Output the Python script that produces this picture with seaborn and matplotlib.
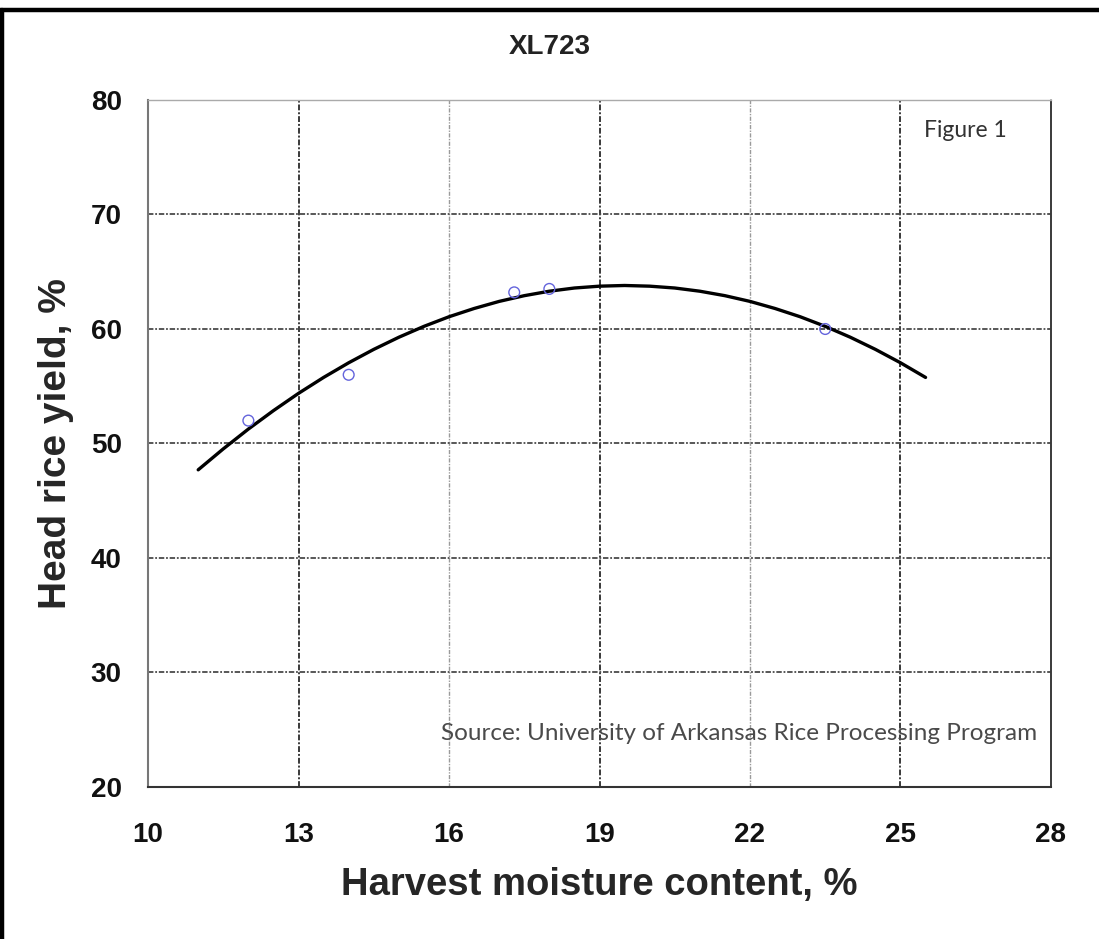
import numpy as np
import pandas as pd
import matplotlib
matplotlib.use("Agg")
import matplotlib.pyplot as plt
from matplotlib.lines import Line2D
import seaborn as sns

# measured points
moisture = [12.0, 14.0, 17.3, 18.0, 23.5]
head_rice = [52.0, 56.0, 63.2, 63.5, 60.0]

# trend line
curve_x = [11, 11.5, 12, 12.5, 13, 13.5, 14, 14.5, 15, 15.5, 16, 16.5, 17,
           17.5, 18, 18.5, 19, 19.5, 20, 20.5, 21, 21.5, 22, 22.5, 23, 23.5,
           24, 24.5, 25, 25.5]
curve_y = [47.7, 49.53, 51.26, 52.87, 54.38, 55.77, 57.05, 58.22, 59.28,
           60.23, 61.07, 61.79, 62.41, 62.91, 63.3, 63.58, 63.74, 63.8,
           63.74, 63.58, 63.3, 62.91, 62.41, 61.79, 61.07, 60.23, 59.28,
           58.22, 57.05, 55.77]

x_ticks = [10, 13, 16, 19, 22, 25, 28]
y_ticks = [20, 30, 40, 50, 60, 70, 80]
dark_x_grid = [13, 19, 25]
light_x_grid = [16, 22]
dark_y_grid = [30, 40, 50, 60, 70]

sns.set_theme(style="white")
plt.rcParams["font.family"] = ["Liberation Sans", "DejaVu Sans"]

fig = plt.figure(figsize=(10.99, 9.39), dpi=100)
ax = fig.add_axes([0.1347, 0.1619, 0.8216, 0.7316])

dash = (0, (3, 1, 1, 1))
for x in light_x_grid:
    ax.axvline(x, color="#9a9a9a", lw=1.0, ls=dash, zorder=0)
for x in dark_x_grid:
    ax.axvline(x, color="#3a3a3a", lw=1.4, ls=dash, zorder=0)
for y in dark_y_grid:
    ax.axhline(y, color="#4a4a4a", lw=1.3, ls=dash, zorder=0)

df_curve = pd.DataFrame({"x": curve_x, "y": curve_y})
sns.lineplot(data=df_curve, x="x", y="y", color="black", lw=2.4, ax=ax,
             sort=False, zorder=3)

df_pts = pd.DataFrame({"moisture": moisture, "yield": head_rice})
sns.scatterplot(data=df_pts, x="moisture", y="yield", marker="o", s=60,
                facecolors="none", edgecolors="#6464dc", linewidth=1.0,
                ax=ax, zorder=4)

ax.set_xlim(10, 28)
ax.set_ylim(20, 80)
ax.set_xticks(x_ticks)
ax.set_yticks(y_ticks)
ax.tick_params(axis="both", length=0, labelsize=20, colors="#111111")
ax.tick_params(axis="x", pad=25)
ax.tick_params(axis="y", pad=19)
for lab in ax.get_xticklabels() + ax.get_yticklabels():
    lab.set_fontweight("bold")

ax.spines["left"].set_color("#777777")
ax.spines["left"].set_linewidth(1.5)
ax.spines["bottom"].set_color("#333333")
ax.spines["bottom"].set_linewidth(1.5)
ax.spines["top"].set_color("#aaaaaa")
ax.spines["top"].set_linewidth(1.0)
ax.spines["top"].set_linestyle(dash)
ax.spines["right"].set_color("#3a3a3a")
ax.spines["right"].set_linewidth(1.4)
ax.spines["right"].set_linestyle(dash)

ax.set_xlabel("Harvest moisture content, %", fontsize=27.5, fontweight="bold",
              labelpad=14)
ax.set_ylabel("Head rice yield, %", fontsize=28, fontweight="bold", labelpad=12)

fig.text(550 / 1099, 1 - 47 / 939, "XL723", ha="center", va="center",
         fontsize=20, fontweight="bold", color="#222222")
ax.text(0.905, 0.955, "Figure 1", transform=ax.transAxes, ha="center",
        va="center", fontsize=16.5, color="#333333", family=["Lato", "DejaVu Sans"])
ax.text(0.985, 0.078, "Source: University of Arkansas Rice Processing Program",
        transform=ax.transAxes, ha="right", va="center", fontsize=17.5,
        color="#4a4a4a", family=["Lato", "DejaVu Sans"])

# outer frame (top and left edges)
fig.add_artist(Line2D([0, 1], [1 - 10 / 939, 1 - 10 / 939], color="black",
                      lw=3.2, transform=fig.transFigure))
fig.add_artist(Line2D([2 / 1099, 2 / 1099], [0, 1 - 10 / 939], color="black",
                      lw=3.2, transform=fig.transFigure))

fig.savefig("out.png", dpi=100, facecolor="white")
